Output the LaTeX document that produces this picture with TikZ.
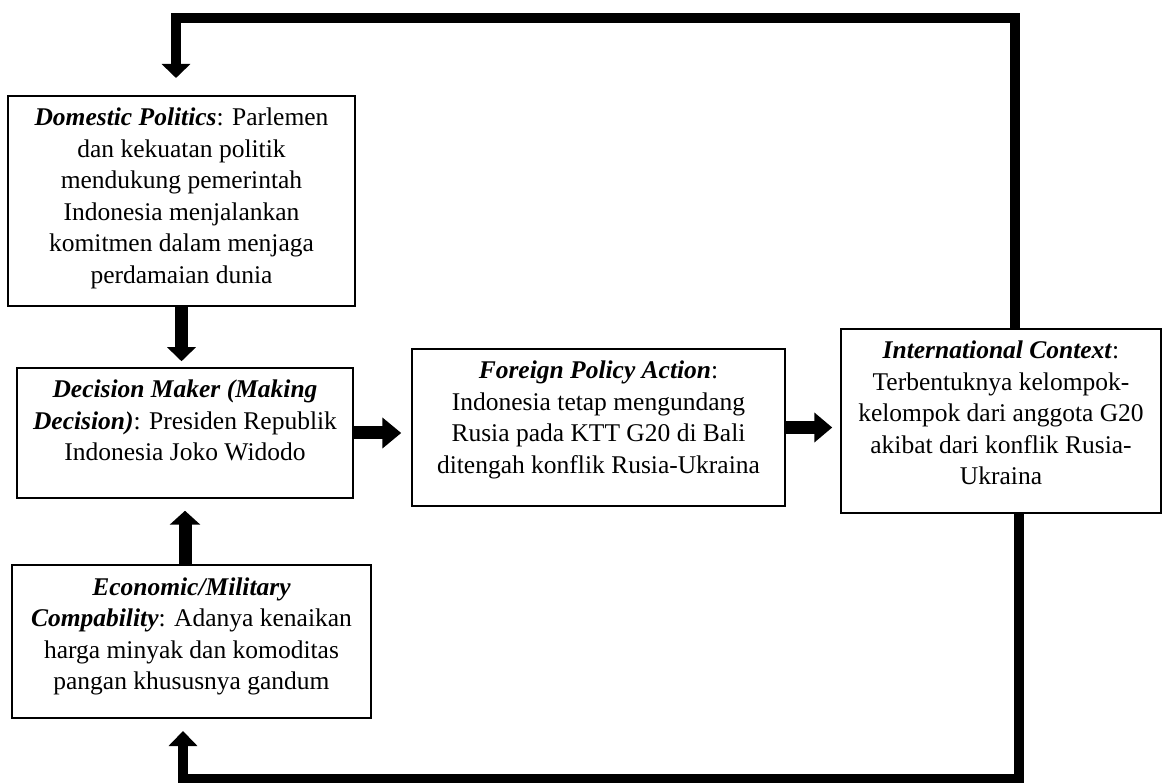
\documentclass[tikz,border=0pt]{standalone}
\usepackage{fontspec}
\setmainfont{Liberation Serif}
\usetikzlibrary{arrows.meta}
\begin{document}
\begin{tikzpicture}[x=1pt,y=-1pt,
  box/.style={draw, line width=1.5pt, inner sep=0pt},
  txt/.style={font=\fontsize{25.5}{31.5}\selectfont, align=center, inner sep=0pt, anchor=north},
  loopline/.style={line width=10pt, line join=miter, line cap=butt},
  bigarrow/.style={line width=13pt, line cap=butt},
]
\useasboundingbox (0,0) rectangle (1163,783);
\fill[white] (0,0) rectangle (1163,783);

% boxes
\node[box, minimum width=347pt, minimum height=210pt] (dp) at (181.5,201) {};
\node[box, minimum width=336pt, minimum height=130pt] (dm) at (185,433) {};
\node[box, minimum width=359pt, minimum height=153pt] (ec) at (191.5,641.5) {};
\node[box, minimum width=373pt, minimum height=157pt] (fp) at (598.5,427.5) {};
\node[box, minimum width=320pt, minimum height=184pt] (ic) at (1001,421) {};

% texts
\node[txt] (dpt) at ([yshift=-8.5pt]dp.north) {\strut\textbf{\textit{Domestic Politics}}: Parlemen\\dan kekuatan politik\\mendukung pemerintah\\Indonesia menjalankan\\komitmen dalam menjaga\\perdamaian dunia};
\node[txt] (dmt) at ([yshift=-8.5pt]dm.north) {\strut\textbf{\textit{Decision Maker (Making}}\\\textbf{\textit{Decision)}}: Presiden Republik\\Indonesia Joko Widodo};
\node[txt] (ect) at ([yshift=-8.5pt]ec.north) {\strut\textbf{\textit{Economic/Military}}\\\textbf{\textit{Compability}}: Adanya kenaikan\\harga minyak dan komoditas\\pangan khususnya gandum};
\node[txt] (fpt) at ([yshift=-8.5pt]fp.north) {\strut\textbf{\textit{Foreign Policy Action}}:\\Indonesia tetap mengundang\\Rusia pada KTT G20 di Bali\\ditengah konflik Rusia-Ukraina};
\node[txt] (ict) at ([yshift=-8.5pt]ic.north) {\strut\textbf{\textit{International Context}}:\\Terbentuknya kelompok-\\kelompok dari anggota G20\\akibat dari konflik Rusia-\\Ukraina};

% loop coordinates
\coordinate (t1) at (1015,18);
\coordinate (t2) at (176,18);
\coordinate (tipdp) at (176,78);
\coordinate (b1) at (1019,778.5);
\coordinate (b2) at (183,778.5);
\coordinate (tipec) at (183,731);

% top feedback loop
\draw[loopline, -{Triangle[width=28pt,length=14pt]}] (t1 |- ic.north) -- (t1) -- (t2) -- (tipdp);
% bottom feedback loop
\draw[loopline, -{Triangle[width=28pt,length=15pt]}] (b1 |- ic.south) -- (b1) -- (b2) -- (tipec);

% straight arrows
\draw[bigarrow, -{Triangle[width=28pt,length=14pt]}, shorten >=6pt] (dp.south) -- (dm.north -| dp.south);
\draw[bigarrow, -{Triangle[width=30pt,length=19pt]}, shorten >=10pt] (dm.east) -- (dm.east -| fp.west);
\draw[bigarrow, -{Triangle[width=29pt,length=18pt]}, shorten >=8pt] (fp.east) -- (fp.east -| ic.west);
\draw[bigarrow, -{Triangle[width=30pt,length=14pt]}, shorten >=12pt] (ec.north -| dm.south) -- (dm.south);
\end{tikzpicture}
\end{document}
